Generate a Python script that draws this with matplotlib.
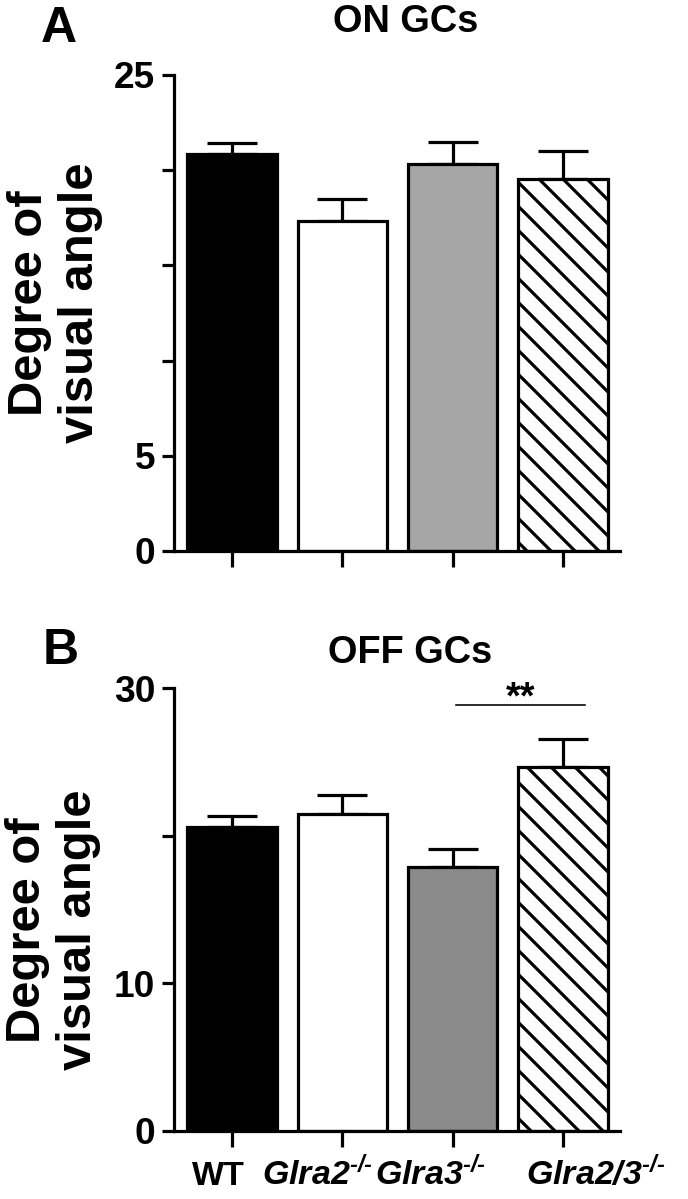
import numpy as np
import matplotlib as mpl
import matplotlib.pyplot as plt

mpl.use('Agg')

plt.rcParams['font.family'] = ['Liberation Sans', 'DejaVu Sans']
plt.rcParams['font.weight'] = 'bold'
plt.rcParams['mathtext.fontset'] = 'custom'
plt.rcParams['mathtext.rm'] = 'Liberation Sans:italic:bold'
plt.rcParams['mathtext.it'] = 'Liberation Sans:italic:bold'
plt.rcParams['mathtext.bf'] = 'Liberation Sans:bold'
plt.rcParams['hatch.linewidth'] = 1.6

# данные
groups = ['WT', r'Glra2$^{\text{-/-}}$', r'Glra3$^{\text{-/-}}$', r'Glra2/3$^{\text{-/-}}$']
group_styles = ['normal', 'italic', 'italic', 'italic']
on_mean = [20.85, 17.35, 20.3, 19.55]
on_sem = [0.6, 1.15, 1.2, 1.45]
off_mean = [20.6, 21.5, 17.9, 24.65]
off_sem = [0.7, 1.25, 1.2, 1.9]

on_ticks = [0, 5, 10, 15, 20, 25]
on_ticklabels = ['0', '5', '', '', '', '25']
off_ticks = [0, 10, 20, 30]
off_ticklabels = ['0', '10', '', '30']

on_colors = ['black', 'white', '#a6a6a6', 'white']
off_colors = ['black', 'white', '#8a8a8a', 'white']
hatches = ['', '', '', '\\\\']

W, H = 688, 1199
DPI = 144
fig = plt.figure(figsize=(W / DPI, H / DPI), dpi=DPI)

axA = fig.add_axes([174 / W, 1 - 551 / H, 446 / W, 476 / H])
axB = fig.add_axes([174 / W, 1 - 1131 / H, 446 / W, 443 / H])

x = np.arange(len(groups))


def draw(ax, means, sems, colors, ylim, ticks, ticklabels):
    ax.errorbar(x, means, yerr=[np.zeros(len(means)), sems], fmt='none',
                ecolor='black', elinewidth=1.6, capsize=12.5, capthick=1.6, zorder=1)
    ax.bar(x, means, width=0.81, color=colors, edgecolor='black', linewidth=1.6,
           hatch=hatches, zorder=2)
    ax.set_xlim(-0.526, 3.518)
    ax.set_ylim(*ylim)
    ax.set_yticks(ticks)
    ax.set_yticklabels(ticklabels, fontsize=18.5, fontweight='bold')
    ax.set_xticks(x)
    ax.set_xticklabels([''] * len(x))
    for s in ['top', 'right']:
        ax.spines[s].set_visible(False)
    for s in ['left', 'bottom']:
        ax.spines[s].set_linewidth(1.6)
    ax.tick_params(axis='y', length=6, width=1.6, pad=3.5)
    ax.tick_params(axis='x', length=8, width=1.6, pad=6)


draw(axA, on_mean, on_sem, on_colors, (0, 25), on_ticks, on_ticklabels)
draw(axB, off_mean, off_sem, off_colors, (0, 30), off_ticks, off_ticklabels)

# подписи групп под панелью B (в оригинале сдвинуты вручную)
label_px = [218, 318, 431, 596]
for name, st, px in zip(groups, group_styles, label_px):
    fig.text(px / W, 1 - 1185 / H, name, ha='center', va='baseline', fontsize=17,
             fontweight='bold', fontstyle=st)

# значимость
axB.plot([2.03, 3.2], [28.84, 28.84], color='black', lw=0.8, clip_on=False)
axB.text(2.62, 28.6, '**', ha='center', va='baseline', fontsize=19, fontweight='bold')

fig.text(406 / W, 1 - 22 / H, 'ON GCs', ha='center', va='center', fontsize=19, fontweight='bold')
fig.text(410 / W, 1 - 653 / H, 'OFF GCs', ha='center', va='center', fontsize=19, fontweight='bold')
fig.text(59 / W, 1 - 29 / H, 'A', ha='center', va='center', fontsize=25, fontweight='bold')
fig.text(61 / W, 1 - 651 / H, 'B', ha='center', va='center', fontsize=25, fontweight='bold')

fig.text(55 / W, 1 - 303 / H, 'Degree of\nvisual angle', rotation=90, ha='center',
         va='center', multialignment='center', fontsize=24.5, fontweight='bold', linespacing=1.15)
fig.text(53 / W, 1 - 930 / H, 'Degree of\nvisual angle', rotation=90, ha='center',
         va='center', multialignment='center', fontsize=24.5, fontweight='bold', linespacing=1.15)

fig.savefig('out.png', dpi=DPI)
